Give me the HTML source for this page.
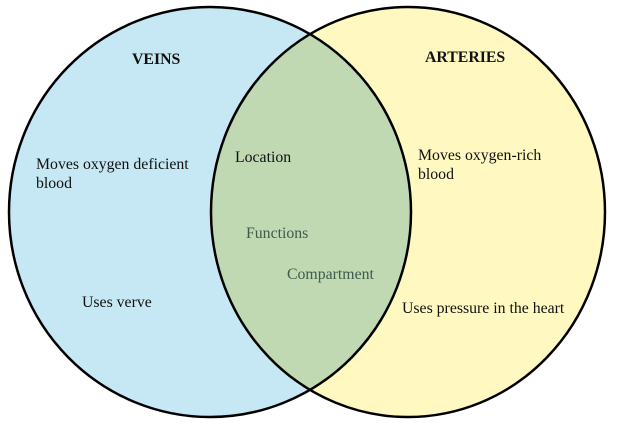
<!DOCTYPE html>
<html><head><meta charset="utf-8"><style>
html,body{margin:0;padding:0;background:#fff;}
svg{display:block;}
text{font-family:"Liberation Serif",serif;font-size:15.8px;fill:#111;}
</style></head><body>
<svg width="624" height="423" viewBox="0 0 624 423" xmlns="http://www.w3.org/2000/svg">
<defs>
<clipPath id="c"><ellipse cx="210" cy="212" rx="201" ry="205"/></clipPath>
</defs>
<ellipse cx="210" cy="212" rx="201" ry="205" fill="#c6e8f4"/>
<ellipse cx="408" cy="212" rx="197" ry="205" fill="#fff9c1"/>
<ellipse cx="408" cy="212" rx="197" ry="205" fill="#c0d9b3" clip-path="url(#c)"/>
<ellipse cx="210" cy="212" rx="201" ry="205" fill="none" stroke="#000" stroke-width="2.5"/>
<ellipse cx="408" cy="212" rx="197" ry="205" fill="none" stroke="#000" stroke-width="2.5"/>
<text x="132" y="64" font-weight="bold">VEINS</text>
<text x="425" y="62" font-weight="bold">ARTERIES</text>
<text x="36" y="169">Moves oxygen deficient</text>
<text x="36" y="188">blood</text>
<text x="82" y="307">Uses verve</text>
<text x="235" y="162">Location</text>
<text x="246" y="238" style="fill:#3d5a4a">Functions</text>
<text x="287" y="279" style="fill:#3d5a4a">Compartment</text>
<text x="418" y="160">Moves oxygen-rich</text>
<text x="418" y="179">blood</text>
<text x="402" y="313">Uses pressure in the heart</text>
</svg>
</body></html>
